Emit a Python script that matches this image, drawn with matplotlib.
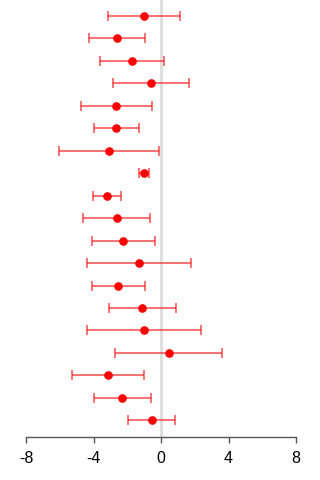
import matplotlib
matplotlib.use("Agg")
import matplotlib.pyplot as plt
import numpy as np

# estimates with lower / upper interval bounds, listed top to bottom
est = [-1.01, -2.63, -1.72, -0.61, -2.65, -2.65, -3.10, -1.01, -3.20, -2.63,
       -2.23, -1.30, -2.53, -1.13, -1.01, 0.45, -3.16, -2.29, -0.55]
lo = [-3.12, -4.27, -3.63, -2.83, -4.74, -3.99, -6.02, -1.32, -4.01, -4.60,
      -4.11, -4.40, -4.11, -3.10, -4.39, -2.75, -5.29, -3.97, -1.96]
hi = [1.13, -0.97, 0.20, 1.64, -0.55, -1.30, -0.14, -0.69, -2.39, -0.65,
      -0.36, 1.78, -0.93, 0.87, 2.37, 3.64, -0.99, -0.61, 0.85]
xticks = [-8, -4, 0, 4, 8]

plt.rcParams["font.family"] = ["Liberation Sans", "DejaVu Sans"]

est = np.array(est)
lo = np.array(lo)
hi = np.array(hi)
y = np.arange(len(est), 0, -1)

fig = plt.figure(figsize=(3.2, 4.8), dpi=100)
ax = fig.add_axes([0.08125, 0.0902, 0.84375, 0.9098])

ax.axvline(0, color="#dddddd", lw=2, zorder=0)
ax.errorbar(est, y, xerr=[est - lo, hi - est], fmt="none",
            ecolor="#ff0000", alpha=0.7, elinewidth=1.1, capsize=3.6,
            capthick=1.1, zorder=2)
ax.plot(est, y, "o", color="#ff0000", ms=5.2, zorder=3)

ax.set_xlim(-8, 8)
ax.set_ylim(0.27, 19.71)
ax.set_xticks(xticks)
ax.set_xticklabels([str(t) for t in xticks], fontsize=11.5)
ax.set_yticks([])
for s in ["top", "right", "left"]:
    ax.spines[s].set_visible(False)
ax.spines["bottom"].set_color("#555555")
ax.spines["bottom"].set_linewidth(1)
ax.tick_params(axis="x", length=4, width=1, color="#555555", pad=6)

fig.savefig("out.png", dpi=100)
